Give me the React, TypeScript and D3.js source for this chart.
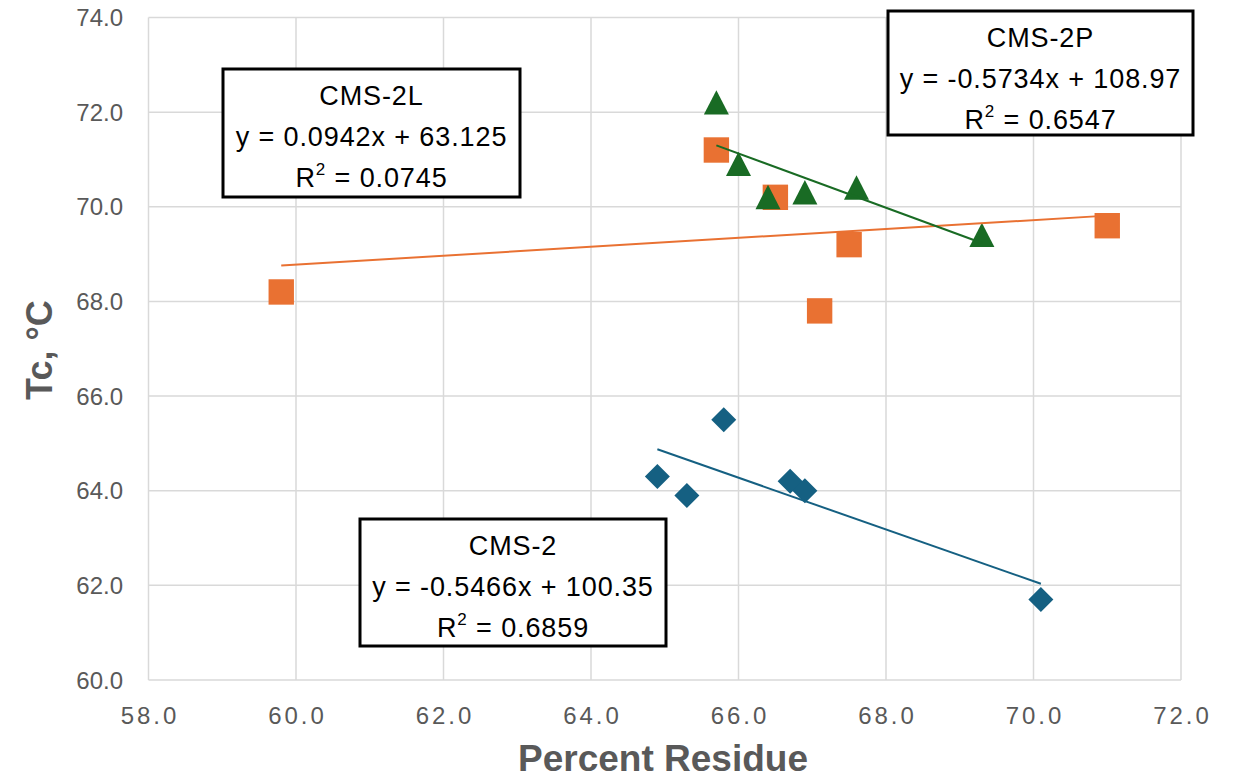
import React from "react";
import * as d3 from "d3";

// CMS-2 (blue diamonds)
const cms2X = [64.9, 65.3, 65.8, 66.7, 66.9, 70.1];
const cms2Y = [64.3, 63.9, 65.5, 64.2, 64.0, 61.7];
// CMS-2L (orange squares)
const cms2lX = [59.8, 65.7, 66.5, 67.1, 67.5, 71.0];
const cms2lY = [68.2, 71.2, 70.2, 67.8, 69.2, 69.6];
// CMS-2P (green triangles)
const cms2pX = [65.7, 66.0, 66.4, 66.9, 67.6, 69.3];
const cms2pY = [72.2, 70.9, 70.2, 70.3, 70.4, 69.4];

// trendline equations from the labels: [slope, intercept, r2]
const cms2Fit = [-0.5466, 100.35, 0.6859];
const cms2lFit = [0.0942, 63.125, 0.0745];
const cms2pFit = [-0.5734, 108.97, 0.6547];

const xTicks = [58, 60, 62, 64, 66, 68, 70, 72];
const yTicks = [60, 62, 64, 66, 68, 70, 72, 74];

const width = 1233;
const height = 780;
const margin = { top: 17.5, right: 52, bottom: 100, left: 148.5 };

const grey = "#595959";
const font = "'Liberation Sans', Arial, sans-serif";

const x = d3
  .scaleLinear()
  .domain([58, 72])
  .range([margin.left, width - margin.right]);

const y = d3
  .scaleLinear()
  .domain([60, 74])
  .range([height - margin.bottom, margin.top]);

// marker shapes, drawn with d3.path, bbox centred on the point
const diamond = (r: number) => {
  const p = d3.path();
  p.moveTo(0, -r); p.lineTo(r, 0); p.lineTo(0, r); p.lineTo(-r, 0); p.closePath();
  return p.toString();
};
const square = (r: number) => {
  const p = d3.path();
  p.rect(-r, -r, 2 * r, 2 * r);
  return p.toString();
};
const triangle = (r: number) => {
  const p = d3.path();
  p.moveTo(0, -r); p.lineTo(r, r * 0.95); p.lineTo(-r, r * 0.95); p.closePath();
  return p.toString();
};

const series = [
  { name: "CMS-2", xs: cms2X, ys: cms2Y, fit: cms2Fit, color: "#156082", shape: diamond(12.5), box: { x: 360, y: 519, w: 306, h: 127 } },
  { name: "CMS-2L", xs: cms2lX, ys: cms2lY, fit: cms2lFit, color: "#E97132", shape: square(12.7), box: { x: 223, y: 69, w: 297, h: 128 } },
  { name: "CMS-2P", xs: cms2pX, ys: cms2pY, fit: cms2pFit, color: "#196B24", shape: triangle(12.5), box: { x: 888, y: 11, w: 305, h: 124 } },
];

const fmt = (v: number) => (v < 0 ? "-" : "") + Math.abs(v).toString();

const Box = ({ s }: any) => {
  const { x: bx, y: by, w, h } = s.box;
  const cx = bx + w / 2;
  const [m, b, r2] = s.fit;
  const eq = `y = ${fmt(m)}x + ${b}`;
  const style: any = { fontFamily: font, fontSize: 27, letterSpacing: 0.9, fill: "#000" };
  return (
    <g>
      <rect x={bx} y={by} width={w} height={h} fill="#fff" stroke="#000" strokeWidth={3} />
      <text x={cx} y={by + 36} textAnchor="middle" style={style}>{s.name}</text>
      <text x={cx} y={by + 77} textAnchor="middle" style={style}>{eq}</text>
      <text x={cx} y={by + 118} textAnchor="middle" style={style}>
        R<tspan fontSize={17} dy={-12}>2</tspan>
        <tspan dy={12}>{` = ${r2.toFixed(4)}`}</tspan>
      </text>
    </g>
  );
};

export default function App() {
  const line = d3
    .line<number[]>()
    .x((d) => x(d[0]))
    .y((d) => y(d[1]));

  return (
    <svg width={width} height={height} style={{ position: "absolute", left: 0, top: 0, background: "#fff" }}>
      <rect width={width} height={height} fill="#fff" />
      {/* gridlines */}
      {xTicks.map((t) => (
        <line key={"gx" + t} x1={x(t)} x2={x(t)} y1={y(60)} y2={y(74)} stroke="#d9d9d9" strokeWidth={1.5} />
      ))}
      {yTicks.map((t) => (
        <line key={"gy" + t} x1={x(58)} x2={x(72)} y1={y(t)} y2={y(t)} stroke="#d9d9d9" strokeWidth={1.5} />
      ))}

      {/* tick labels */}
      {yTicks.map((t) => (
        <text key={"ly" + t} x={123} y={y(t) + 8.5} textAnchor="end" fill={grey}
          style={{ fontFamily: font, fontSize: 24 }}>
          {t.toFixed(1)}
        </text>
      ))}
      {xTicks.map((t) => (
        <text key={"lx" + t} x={x(t) + 1.5} y={724} textAnchor="middle" fill={grey}
          style={{ fontFamily: font, fontSize: 24, letterSpacing: 3 }}>
          {t.toFixed(1)}
        </text>
      ))}

      {/* axis titles */}
      <text transform="translate(52,350) rotate(-90)" textAnchor="middle" fill={grey}
        style={{ fontFamily: font, fontSize: 36, fontWeight: "bold" }}>
        Tc, °C
      </text>
      <text x={663} y={771} textAnchor="middle" fill={grey}
        style={{ fontFamily: font, fontSize: 37, fontWeight: "bold" }}>
        Percent Residue
      </text>

      {/* markers */}
      {series.map((s) =>
        s.xs.map((v, i) => (
          <path key={s.name + i} d={s.shape} transform={`translate(${x(v)},${y(s.ys[i])})`} fill={s.color} />
        ))
      )}

      {/* trendlines */}
      {series.map((s) => {
        const [m, b] = s.fit;
        const [lo, hi] = d3.extent(s.xs) as [number, number];
        return (
          <path key={"t" + s.name} d={line([[lo, m * lo + b], [hi, m * hi + b]]) || ""}
            fill="none" stroke={s.color} strokeWidth={2} />
        );
      })}

      {/* equation boxes */}
      {series.map((s) => <Box key={"b" + s.name} s={s} />)}
    </svg>
  );
}
